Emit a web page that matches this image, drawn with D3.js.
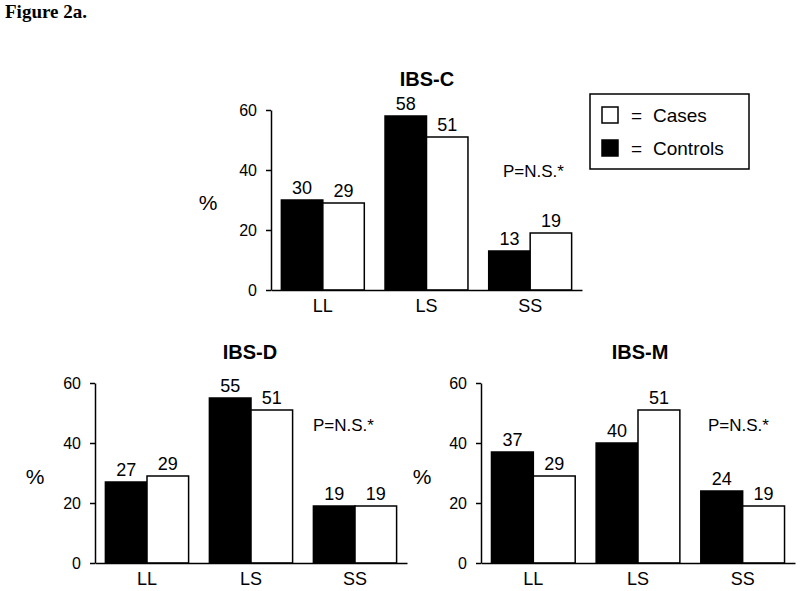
<!DOCTYPE html>
<html>
<head>
<meta charset="utf-8">
<script src="https://cdn.jsdelivr.net/npm/d3@7"></script>
<style>
  html, body { margin: 0; padding: 0; background: #fff; }
  svg { display: block; }
  text { font-family: Arial, "Liberation Sans", sans-serif; fill: #000; }
</style>
</head>
<body>
<svg id="chart" width="800" height="591"></svg>
<script>
// ---- Data ----
const genotypes = ["LL", "LS", "SS"];
const seriesNames = ["Controls", "Cases"];
const panelTitles = ["IBS-C", "IBS-D", "IBS-M"];
const controlsC = [30, 58, 13];
const casesC = [29, 51, 19];
const controlsD = [27, 55, 19];
const casesD = [29, 51, 19];
const controlsM = [37, 40, 24];
const casesM = [29, 51, 19];
const yTicks = [0, 20, 40, 60];
const pLabel = "P=N.S.*";

const svg = d3.select("#chart");

svg.append("text")
  .attr("x", 5).attr("y", 18)
  .style("font-family", "'Liberation Serif', 'Times New Roman', serif")
  .style("font-weight", "bold").style("font-size", "19px")
  .text("Figure 2a.");

const panels = [
  { title: panelTitles[0], controls: controlsC, cases: casesC,
    x0: 271, x1: 582, y0: 290, y1: 110, titleX: 427, titleY: 86, pctX: 208, pctY: 203, pX: 503, pY: 177 },
  { title: panelTitles[1], controls: controlsD, cases: casesD,
    x0: 95, x1: 407, y0: 563, y1: 383, titleX: 250, titleY: 359, pctX: 35, pctY: 477, pX: 313, pY: 431 },
  { title: panelTitles[2], controls: controlsM, cases: casesM,
    x0: 481, x1: 795, y0: 563, y1: 383, titleX: 640, titleY: 359, pctX: 422, pctY: 477, pX: 708, pY: 431 }
];

const fills = { Controls: "#000", Cases: "#fff" };

panels.forEach(p => {
  const g = svg.append("g");
  const x = d3.scaleBand().domain(genotypes).range([p.x0, p.x1])
    .paddingInner(0.2).paddingOuter(0.1);
  const xi = d3.scaleBand().domain(seriesNames).range([0, x.bandwidth()]);
  const y = d3.scaleLinear().domain([0, 60]).range([p.y0, p.y1]);

  const rows = [];
  genotypes.forEach((gt, i) => {
    rows.push({ gt, s: "Controls", v: p.controls[i] });
    rows.push({ gt, s: "Cases", v: p.cases[i] });
  });

  g.selectAll("rect.bar").data(rows).join("rect")
    .attr("class", "bar")
    .attr("x", d => x(d.gt) + xi(d.s))
    .attr("y", d => y(d.v))
    .attr("width", xi.bandwidth())
    .attr("height", d => y(0) - y(d.v))
    .attr("fill", d => fills[d.s])
    .attr("stroke", "#000").attr("stroke-width", 1.5);

  g.selectAll("text.val").data(rows).join("text")
    .attr("class", "val")
    .attr("x", d => x(d.gt) + xi(d.s) + xi.bandwidth() / 2)
    .attr("y", d => y(d.v) - 6)
    .attr("text-anchor", "middle")
    .style("font-size", "18px")
    .text(d => d.v);

  // y axis
  const ya = g.append("g").attr("transform", `translate(${p.x0},0)`)
    .call(d3.axisLeft(y).tickValues(yTicks).tickSize(5).tickPadding(9).tickSizeOuter(0));
  ya.select(".domain").attr("stroke", "#000").attr("stroke-width", 1.5);
  ya.selectAll(".tick line").attr("stroke", "#000").attr("stroke-width", 1.5);
  ya.selectAll(".tick text").style("font-size", "16px")
    .style("font-family", "Arial, 'Liberation Sans', sans-serif").attr("fill", "#000");

  // x axis
  const xa = g.append("g").attr("transform", `translate(0,${p.y0})`)
    .call(d3.axisBottom(x).tickSize(0).tickPadding(9).tickSizeOuter(0));
  xa.select(".domain").attr("stroke", "#000").attr("stroke-width", 1.5);
  xa.selectAll(".tick text").style("font-size", "18px")
    .style("font-family", "Arial, 'Liberation Sans', sans-serif").attr("fill", "#000");

  g.append("text").attr("x", p.titleX).attr("y", p.titleY)
    .attr("text-anchor", "middle")
    .style("font-weight", "bold").style("font-size", "20px")
    .text(p.title);

  g.append("text").attr("x", p.pctX).attr("y", p.pctY + 7)
    .attr("text-anchor", "middle").style("font-size", "21px").text("%");

  g.append("text").attr("x", p.pX).attr("y", p.pY)
    .style("font-size", "17px").text(pLabel);
});

// Legend
const lg = svg.append("g");
lg.append("rect").attr("x", 590).attr("y", 94).attr("width", 159).attr("height", 75)
  .attr("fill", "#fff").attr("stroke", "#000").attr("stroke-width", 1.5);
const legendItems = [
  { s: "Cases", label: "Cases", y: 107 },
  { s: "Controls", label: "Controls", y: 140 }
];
legendItems.forEach(it => {
  lg.append("rect").attr("x", 602).attr("y", it.y).attr("width", 16).attr("height", 16)
    .attr("fill", fills[it.s]).attr("stroke", "#000").attr("stroke-width", 1.5);
  lg.append("text").attr("x", 631).attr("y", it.y + 15).style("font-size", "19px").text("=");
  lg.append("text").attr("x", 653).attr("y", it.y + 15).style("font-size", "19px").text(it.label);
});
</script>
</body>
</html>
